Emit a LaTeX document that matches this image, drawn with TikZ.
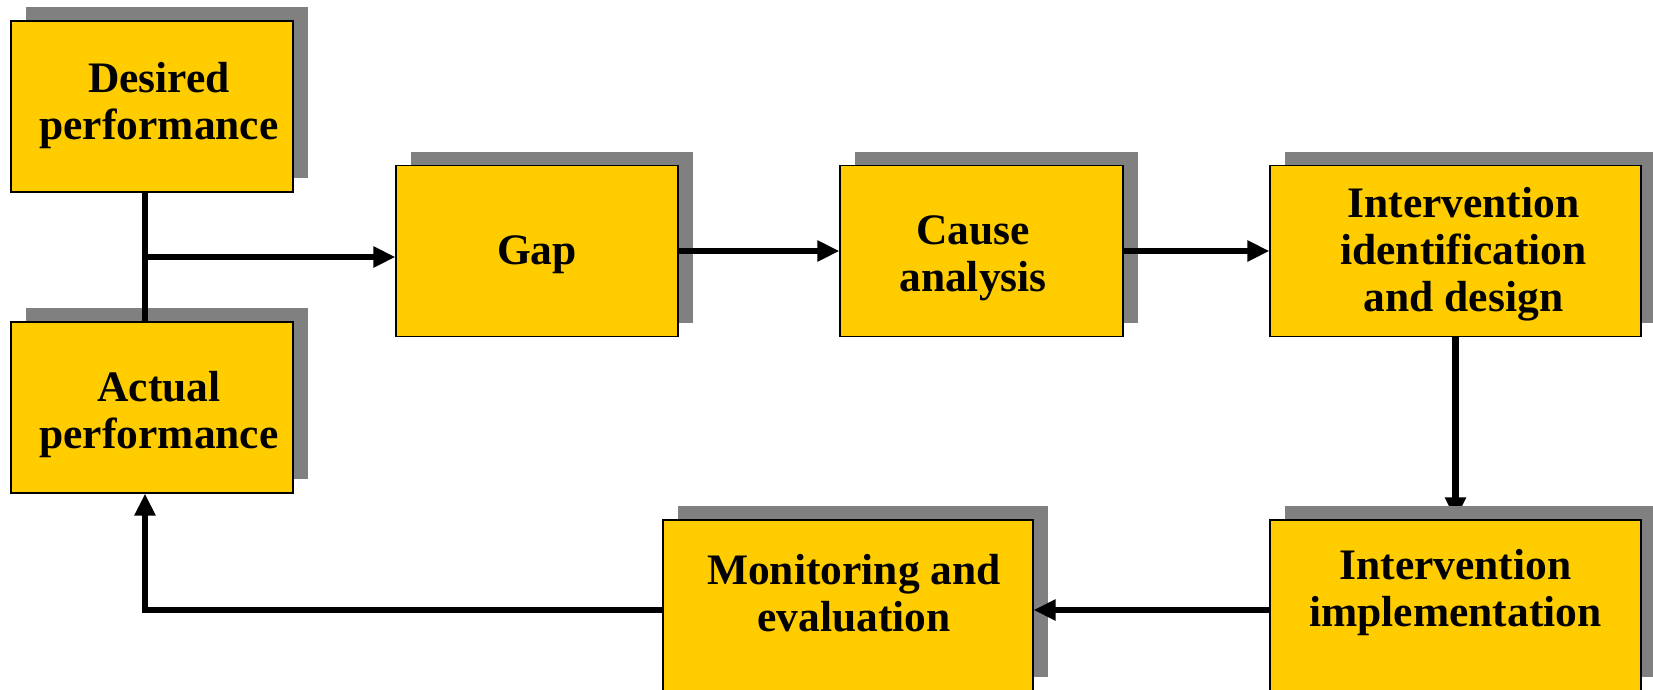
\documentclass[tikz,border=0pt]{standalone}
\usepackage{fontspec}
\setmainfont{Liberation Serif}
\usetikzlibrary{arrows.meta,shadows,backgrounds,calc}
\definecolor{boxyellow}{HTML}{FFCC00}
\definecolor{shadowgray}{HTML}{808080}
\newcommand\boxtxt[3]{\raisebox{#2}[\height][\depth]{\hspace*{#1}\begin{tabular}{@{}c@{}}#3\end{tabular}}}
\tikzset{
  stagebox/.style={draw=black, line width=1.2pt, fill=boxyellow, inner sep=0pt,
    minimum height=171pt, align=center,
    font=\fontsize{43.5}{47}\selectfont\bfseries,
    general shadow={fill=shadowgray, shadow xshift=15pt, shadow yshift=14pt}},
  arr/.style={line width=6.5pt, -{Triangle[width=20pt,length=22pt]}},
  plainline/.style={line width=6.5pt}
}
\begin{document}
\begin{tikzpicture}[x=1pt,y=-1pt]
\useasboundingbox (0,0) rectangle (1653,689);
\node[stagebox, minimum width=282pt] (des) at (152,106.5) {\boxtxt{14pt}{0pt}{Desired\\performance}};
\node[stagebox, minimum width=282pt] (act) at (152,407.5) {\boxtxt{14pt}{-8.5pt}{Actual\\performance}};
\node[stagebox, minimum width=282pt] (gap) at (537,251) {\boxtxt{0pt}{-3.6pt}{Gap}};
\node[stagebox, minimum width=283pt] (cause) at (981.5,251) {\boxtxt{-17pt}{-7.6pt}{Cause\\analysis}};
\node[stagebox, minimum width=371pt] (iid) at (1455.5,251) {\boxtxt{16pt}{-4.3pt}{Intervention\\identification\\and design}};
\node[stagebox, minimum width=371pt] (imp) at (1455.5,605.5) {\boxtxt{0pt}{12.4pt}{Intervention\\implementation}};
\node[stagebox, minimum width=370pt] (mon) at (848,605.5) {\boxtxt{12pt}{6.5pt}{Monitoring and\\evaluation}};
\coordinate (j) at (145,257);
\coordinate (lowy) at (0,610);
\draw[plainline] (des.south -| j) -- (act.north -| j);
\draw[arr] (j) -- (j -| gap.west);
\draw[arr] (gap.east) -- (cause.west);
\draw[arr] (cause.east) -- (iid.west);
\begin{scope}[on background layer]
\draw[arr] (iid.south) -- (imp.north);
\end{scope}
\draw[arr] (imp.west |- lowy) -- (mon.east |- lowy);
\draw[arr] (mon.west |- lowy) -| (act.south -| j);
\end{tikzpicture}
\end{document}
